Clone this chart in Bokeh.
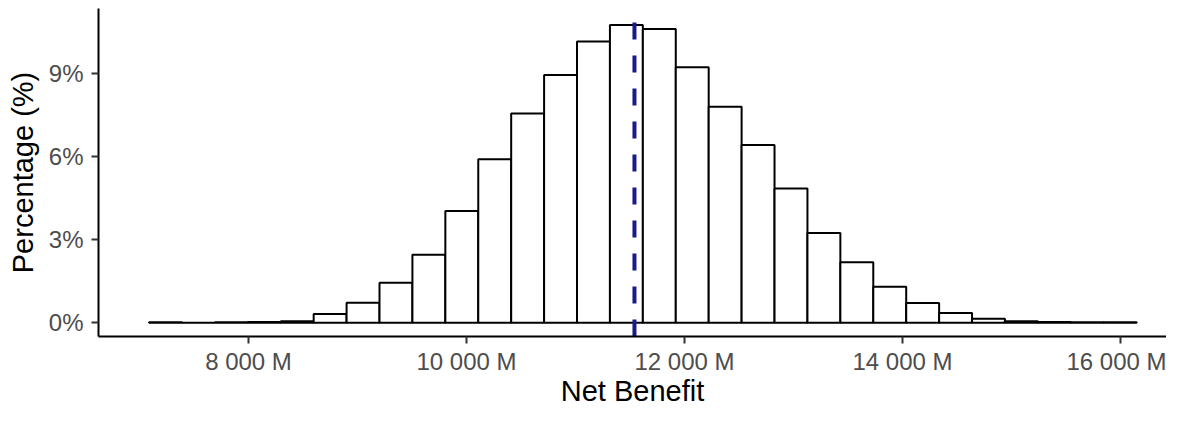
import numpy as np
from bokeh.plotting import figure
from bokeh.models import Range1d, FixedTicker, ColumnDataSource
from bokeh.embed import file_html
from bokeh.resources import INLINE

# ---- data ----
bin_start = 7088          # left edge of first bin (M)
bin_width = 302           # bin width (M)
pct = [0.01, 0.00, 0.01, 0.02, 0.05, 0.31, 0.72, 1.44, 2.45, 4.03,
       5.90, 7.55, 8.94, 10.15, 10.74, 10.60, 9.22, 7.79, 6.41, 4.84,
       3.24, 2.18, 1.30, 0.71, 0.35, 0.14, 0.05, 0.02, 0.01, 0.01]
mean_value = 11541
x_ticks = [8000, 10000, 12000, 14000, 16000]
x_tick_labels = ["8 000 M", "10 000 M", "12 000 M", "14 000 M", "16 000 M"]
y_ticks = [0, 3, 6, 9]
y_tick_labels = ["0%", "3%", "6%", "9%"]
x_label = "Net Benefit"
y_label = "Percentage (%)"

x_start, x_end = 6624, 16422
y_start, y_end = -0.5, 11.34

n = len(pct)
lefts = bin_start + bin_width * np.arange(n)
src = ColumnDataSource(dict(left=lefts, right=lefts + bin_width,
                            top=pct, bottom=[0] * n))

p = figure(width=1166, height=409, output_backend="svg", toolbar_location=None,
           x_range=Range1d(x_start, x_end), y_range=Range1d(y_start, y_end),
           min_border_left=98, min_border_right=0, min_border_top=8,
           min_border_bottom=73)
p.outline_line_color = None
p.background_fill_color = "white"
p.border_fill_color = "white"
p.grid.visible = False

p.quad(left="left", right="right", top="top", bottom="bottom", source=src,
       fill_color="white", line_color="black", line_width=2)

p.segment(x0=[mean_value], y0=[y_start], x1=[mean_value], y1=[y_end],
          line_color="#1a1a8c", line_width=4, line_dash="17 16")

FONT = "Liberation Sans"
for ax in (p.xaxis[0], p.yaxis[0]):
    ax.axis_line_color = "black"
    ax.axis_line_width = 2
    ax.major_tick_line_color = "#333333"
    ax.major_tick_line_width = 2
    ax.major_tick_in = 0
    ax.major_tick_out = 7
    ax.minor_tick_line_color = None
    ax.major_label_text_font = FONT
    ax.major_label_text_font_size = "24px"
    ax.major_label_text_color = "#4D4D4D"
    ax.axis_label_text_font = FONT
    ax.axis_label_text_font_size = "29px"
    ax.axis_label_text_font_style = "normal"
    ax.axis_label_text_color = "black"

p.xaxis[0].ticker = FixedTicker(ticks=x_ticks)
p.xaxis[0].major_label_overrides = dict(zip(x_ticks, x_tick_labels))
p.xaxis[0].axis_label = x_label
p.xaxis[0].major_label_standoff = 4
p.xaxis[0].axis_label_standoff = -3

p.yaxis[0].ticker = FixedTicker(ticks=y_ticks)
p.yaxis[0].major_label_overrides = dict(zip(y_ticks, y_tick_labels))
p.yaxis[0].axis_label = y_label
p.yaxis[0].major_label_standoff = 8
p.yaxis[0].axis_label_standoff = 7

open("out.html", "w").write(file_html(p, INLINE))
